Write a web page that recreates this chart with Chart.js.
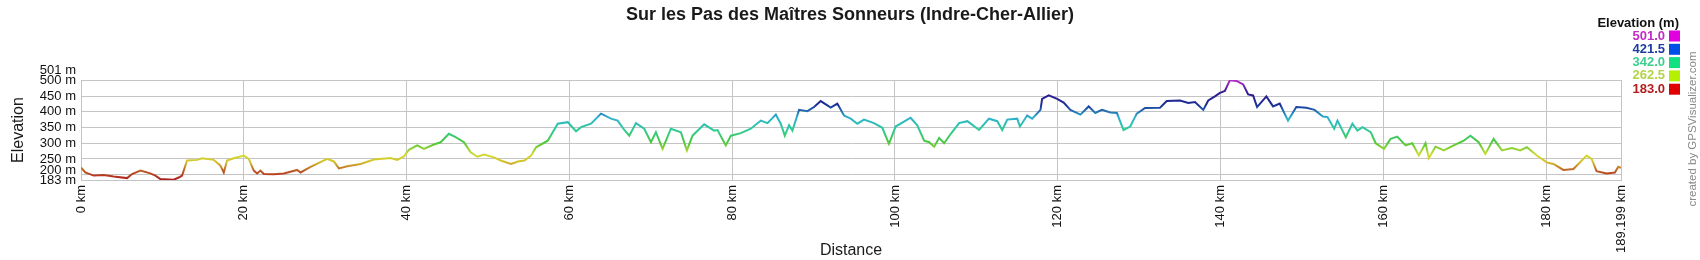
<!DOCTYPE html>
<html>
<head>
<meta charset="utf-8">
<script src="https://cdn.jsdelivr.net/npm/chart.js@4.4.1/dist/chart.umd.min.js"></script>
<style>
  html, body { margin: 0; padding: 0; background: #fff; }
</style>
</head>
<body>
<canvas id="myChart" width="1700" height="260"></canvas>
<script>
const chartTitle = "Sur les Pas des Maîtres Sonneurs (Indre-Cher-Allier)";

// profile: distance (km) and elevation (m)
const distanceKm = [
  0, 0.53, 1.56, 2.79, 4.02, 5.66, 6.27, 7.30, 8.52, 9.14, 9.75, 11.39, 12.01, 12.42,
  13.03, 14.26, 14.88, 16.31, 17.13, 17.54, 17.95, 18.77, 20.0, 20.61, 21.23, 21.64,
  22.05, 22.46, 23.69, 24.92, 26.56, 26.97, 28.20, 30.25, 31.07, 31.68, 32.70, 34.34,
  35.98, 38.03, 38.85, 39.67, 40.29, 41.31, 42.13, 43.36, 44.18, 45.20, 46.02, 47.05,
  47.87, 48.69, 49.51, 50.74, 51.56, 52.84, 53.66, 54.48, 55.30, 55.91, 57.34, 58.57,
  59.80, 60.82, 61.43, 62.66, 63.89, 65.11, 65.93, 66.75, 67.36, 68.18, 69.20, 70.02,
  70.63, 71.45, 72.47, 73.70, 74.44, 75.13, 76.56, 77.79, 78.20, 79.22, 79.84, 81.06,
  82.29, 83.52, 84.34, 85.36, 85.97, 86.46, 86.99, 87.40, 88.22, 89.24, 90.06, 90.88,
  92.11, 92.92, 93.74, 94.56, 95.38, 96.20, 97.42, 98.45, 99.26, 100.08, 101.92, 102.74,
  103.59, 104.20, 104.82, 105.43, 106.04, 106.86, 107.88, 108.90, 110.33, 111.55, 112.57,
  113.18, 113.80, 115.02, 115.35, 116.24, 116.86, 117.88, 118.08, 118.90, 119.92, 120.73,
  121.55, 122.78, 123.80, 124.61, 125.43, 126.45, 127.27, 128.08, 128.90, 129.71, 130.73,
  132.57, 133.39, 135.02, 136.04, 136.86, 137.88, 138.49, 139.31, 139.92, 140.53, 141.14,
  141.96, 142.78, 143.39, 144.00, 144.49, 145.63, 146.45, 147.27, 148.29, 149.31, 150.53,
  151.55, 152.57, 153.14, 153.96, 154.37, 155.39, 156.20, 156.82, 157.43, 158.45, 159.06,
  160.08, 160.90, 161.71, 162.73, 163.55, 164.37, 165.18, 165.59, 166.41, 167.43, 168.65,
  169.88, 170.69, 171.71, 172.53, 173.55, 174.57, 175.80, 176.82, 177.63, 178.86, 180.08,
  180.90, 182.12, 183.35, 184.98, 185.59, 186.20, 187.43, 188.45, 188.86, 189.199
];
const elevationM = [
  223, 207, 197, 199, 194, 189, 202, 213, 204, 197, 186, 184, 191, 197,
  245, 247, 252, 247, 229, 207, 245, 252, 261, 250, 213, 204,
  213, 202, 201, 204, 215, 207, 225, 250, 242, 220, 227, 234,
  248, 253, 247, 258, 279, 293, 282, 296, 303, 330, 319, 303,
  271, 257, 264, 255, 245, 234, 242, 245, 261, 287, 308, 362,
  367, 338, 351, 362, 394, 378, 372, 342, 324, 364, 346, 303,
  335, 282, 346, 335, 277, 324, 360, 340, 342, 293, 324, 332,
  346, 372, 364, 391, 362, 324, 357, 340, 406, 402, 415, 434,
  413, 426, 388, 378, 362, 375, 364, 349, 298, 353, 381, 357,
  308, 303, 289, 317, 300, 330, 364, 370, 342, 378, 370,
  342, 375, 378, 353, 388, 378, 406, 441, 452, 441, 429,
  406, 391, 417, 396, 406, 398, 396, 342, 353, 394, 412,
  413, 434, 436, 428, 431, 406, 436, 449, 460, 466, 500,
  498, 487, 455, 452, 415, 449, 417, 426, 372, 415, 413,
  406, 385, 383, 346, 372, 319, 362, 340, 351, 335, 300,
  282, 314, 321, 293, 300, 261, 300, 253, 289, 277, 293,
  308, 324, 303, 266, 314, 277, 285, 277, 287, 261, 239,
  234, 215, 218, 261, 250, 211, 204, 207, 225, 222
];

const xTicks = [0, 20, 40, 60, 80, 100, 120, 140, 160, 180, 189.199];
const yTicks = [183, 200, 250, 300, 350, 400, 450, 500, 501];

const legendTitle = "Elevation (m)";
const legendValues = ["501.0", "421.5", "342.0", "262.5", "183.0"];
const legendTextColors = ["#c02cc4", "#1c3f9e", "#3ccf90", "#b4d448", "#b41c1c"];
const legendBoxColors = ["#e000e0", "#0050e8", "#10e080", "#b4f000", "#e00000"];

const creditText = "created by GPSVisualizer.com";

// colour of the line by elevation
const stopValues = [183, 212, 240, 262.5, 302, 342, 382, 421.5, 461, 501];
const stopColors = ["#b01c1c", "#bc5a26", "#d2c02c", "#d4dc30", "#4cc83a", "#2ecc96", "#2cb0d0", "#1a2e96", "#301c90", "#b82ccc"];

const fontFamily = "'Liberation Sans', Arial, sans-serif";

function lineGradient(context) {
  const chart = context.chart;
  const { ctx, chartArea, scales } = chart;
  if (!chartArea) return null;
  const y0 = scales.y.getPixelForValue(183);
  const y1 = scales.y.getPixelForValue(501);
  const g = ctx.createLinearGradient(0, y0, 0, y1);
  for (let i = 0; i < stopValues.length; i++) {
    g.addColorStop((stopValues[i] - 183) / (501 - 183), stopColors[i]);
  }
  return g;
}

const overlay = {
  id: "overlay",
  afterDraw(chart) {
    const ctx = chart.ctx;
    const yScale = chart.scales.y;
    ctx.save();

    // title
    ctx.fillStyle = "#1a1a1a";
    ctx.font = "bold 18px 'Liberation Sans Narrow', 'Liberation Sans', sans-serif";
    ctx.textAlign = "center";
    ctx.textBaseline = "middle";
    ctx.fillText(chartTitle, 850, 15);

    // y tick labels, pushed apart when too close
    ctx.font = "13px " + fontFamily;
    ctx.fillStyle = "#111";
    ctx.textAlign = "right";
    let last = Infinity;
    yTicks.forEach(function (v) {
      let py = yScale.getPixelForValue(v);
      if (py > last - 10) py = last - 10;
      last = py;
      ctx.fillText(v + " m", 76, py);
    });

    // legend
    ctx.font = "bold 13px " + fontFamily;
    ctx.fillStyle = "#111";
    ctx.textAlign = "right";
    ctx.fillText(legendTitle, 1679, 23);
    for (let i = 0; i < legendValues.length; i++) {
      const cy = 36 + i * 13.3;
      ctx.fillStyle = legendTextColors[i];
      ctx.fillText(legendValues[i], 1665, cy);
      ctx.fillStyle = legendBoxColors[i];
      ctx.fillRect(1669, cy - 5.5, 11, 11);
    }

    // credit
    ctx.translate(1693, 129);
    ctx.rotate(-Math.PI / 2);
    ctx.font = "11.5px " + fontFamily;
    ctx.fillStyle = "#8a8a8a";
    ctx.textAlign = "center";
    ctx.fillText(creditText, 0, 0);
    ctx.restore();
  }
};

new Chart("myChart", {
  type: "line",
  data: {
    datasets: [{
      data: distanceKm.map((x, i) => ({ x: x, y: elevationM[i] })),
      borderColor: lineGradient,
      borderWidth: 2,
      pointRadius: 0,
      tension: 0,
      fill: false
    }]
  },
  options: {
    responsive: false,
    animation: false,
    layout: { padding: { top: 80, right: 79, left: 0, bottom: 0 } },
    plugins: {
      legend: { display: false },
      tooltip: { enabled: false }
    },
    scales: {
      x: {
        type: "linear",
        min: 0,
        max: 189.199,
        afterBuildTicks: function (s) { s.ticks = xTicks.map(v => ({ value: v })); },
        afterFit: function (s) { s.height = 80; },
        ticks: {
          autoSkip: false,
          minRotation: 90,
          maxRotation: 90,
          padding: 5,
          color: "#111",
          font: { family: fontFamily, size: 13 },
          callback: function (v) { return v + " km"; }
        },
        grid: { color: "#c4c4c4", drawTicks: false },
        border: { color: "#c4c4c4" },
        title: {
          display: true,
          text: "Distance",
          color: "#1a1a1a",
          font: { family: fontFamily, size: 16 },
          padding: 0
        }
      },
      y: {
        min: 183,
        max: 501,
        afterBuildTicks: function (s) { s.ticks = yTicks.map(v => ({ value: v })); },
        afterFit: function (s) { s.width = 81; },
        ticks: { display: false },
        grid: { color: "#c4c4c4", drawTicks: false },
        border: { color: "#c4c4c4" },
        title: {
          display: true,
          text: "Elevation",
          color: "#1a1a1a",
          font: { family: fontFamily, size: 16 },
          padding: { top: 9, bottom: 0 }
        }
      }
    }
  },
  plugins: [overlay]
});
</script>
</body>
</html>
